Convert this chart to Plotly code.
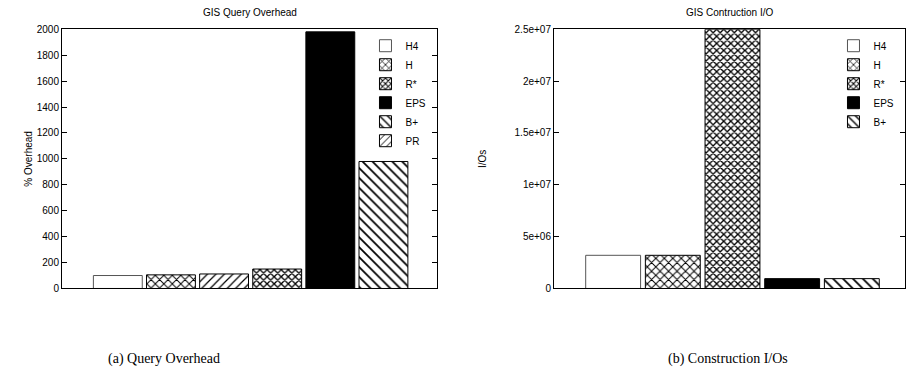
import plotly.graph_objects as go

# ---- data ----
# GIS query overhead (%), in bar order
query_names = ["H4", "H", "PR", "R*", "EPS", "B+"]
query_values = [100, 105, 112, 150, 1980, 980]
query_legend_rank = [1, 2, 6, 3, 4, 5]
query_ticks = [0, 200, 400, 600, 800, 1000, 1200, 1400, 1600, 1800, 2000]

# GIS construction I/Os, in bar order
build_names = ["H4", "H", "R*", "EPS", "B+"]
build_values = [3.2e6, 3.2e6, 2.5e7, 0.95e6, 0.95e6]
build_ticks = [0, 5e6, 1e7, 1.5e7, 2e7, 2.5e7]
build_tick_text = ["0", "5e+06", "1e+07", "1.5e+07", "2e+07", "2.5e+07"]

# fill style per index
STYLES = {
    "H4": dict(color="white", shape="", size=8, solidity=0.3, line="#555555"),
    "H": dict(color="white", shape="x", size=6, solidity=0.3, line="black"),
    "PR": dict(color="white", shape="/", size=6, solidity=0.2, line="black"),
    "R*": dict(color="white", shape="x", size=5, solidity=0.45, line="black"),
    "EPS": dict(color="black", shape="", size=8, solidity=0.3, line="black"),
    "B+": dict(color="white", shape="\\", size=7, solidity=0.25, line="black"),
}

TICK_FONT = dict(family="Liberation Sans, Arial, sans-serif", size=10, color="black")

fig = go.Figure()


def add_bar(name, value, xa, ya, legend, rank):
    s = STYLES[name]
    fig.add_trace(go.Bar(
        x=[0], y=[value], name=name, xaxis=xa, yaxis=ya, legend=legend,
        legendrank=rank,
        marker=dict(
            color=s["color"],
            line=dict(color=s["line"], width=1),
            pattern=dict(shape=s["shape"], fgcolor="black", bgcolor=s["color"],
                         size=s["size"], solidity=s["solidity"], fillmode="replace"),
        ),
    ))


for i, (n, v) in enumerate(zip(query_names, query_values)):
    add_bar(n, v, "x", "y", "legend", query_legend_rank[i])

for i, (n, v) in enumerate(zip(build_names, build_values)):
    add_bar(n, v, "x2", "y2", "legend2", i + 1)

H = 377
y_dom = [(H - 292) / H, (H - 25) / H]

frame = dict(showline=True, linecolor="black", linewidth=1,
             showgrid=False, zeroline=False)

fig.update_layout(
    width=920, height=377,
    margin=dict(l=0, r=0, t=0, b=0),
    paper_bgcolor="white", plot_bgcolor="white",
    barmode="group", bargap=0.15, bargroupgap=0.08,
    font=TICK_FONT,
    xaxis=dict(domain=[62 / 920, 437 / 920], range=[-0.503, 0.497], showticklabels=False,
               ticks="", mirror=True, **frame),
    yaxis=dict(domain=y_dom, range=[0, 2000], tickvals=query_ticks,
               ticks="inside", ticklen=5, tickcolor="black", tickfont=TICK_FONT,
               mirror="ticks",
               title=dict(text="% Overhead", font=TICK_FONT, standoff=2),
               **frame),
    xaxis2=dict(domain=[554 / 920, 905 / 920], range=[-0.5085, 0.4915], showticklabels=False,
                ticks="", anchor="y2", mirror=True, **frame),
    yaxis2=dict(domain=y_dom, range=[0, 2.5e7], tickvals=build_ticks, ticktext=build_tick_text,
                ticks="inside", ticklen=5, tickcolor="black", tickfont=TICK_FONT,
                anchor="x2", mirror="ticks",
                title=dict(text="I/Os", font=TICK_FONT, standoff=26),
                **frame),
    legend=dict(x=437 / 920 - 0.006, y=(H - 27) / H, xanchor="right", yanchor="top",
                bgcolor="rgba(0,0,0,0)", font=TICK_FONT, tracegroupgap=0,
                itemwidth=30),
    legend2=dict(x=905 / 920 - 0.006, y=(H - 27) / H, xanchor="right", yanchor="top",
                 bgcolor="rgba(0,0,0,0)", font=TICK_FONT, tracegroupgap=0,
                 itemwidth=30),
    showlegend=True,
)

# panel titles
fig.add_annotation(text="GIS Query Overhead", xref="paper", yref="paper",
                   x=(62 + 437) / 2 / 920, y=(H - 8) / H, showarrow=False,
                   font=TICK_FONT, xanchor="center", yanchor="middle")
fig.add_annotation(text="GIS Contruction I/O", xref="paper", yref="paper",
                   x=(554 + 905) / 2 / 920, y=(H - 8) / H, showarrow=False,
                   font=TICK_FONT, xanchor="center", yanchor="middle")

# captions
CAP_FONT = dict(family="Liberation Serif, Times New Roman, serif", size=14, color="black")
fig.add_annotation(text="(a) Query Overhead", xref="paper", yref="paper",
                   x=164 / 920, y=(H - 365) / H, showarrow=False, font=CAP_FONT,
                   xanchor="center", yanchor="middle")
fig.add_annotation(text="(b) Construction I/Os", xref="paper", yref="paper",
                   x=728 / 920, y=(H - 365) / H, showarrow=False, font=CAP_FONT,
                   xanchor="center", yanchor="middle")

fig.write_html("out.html")
